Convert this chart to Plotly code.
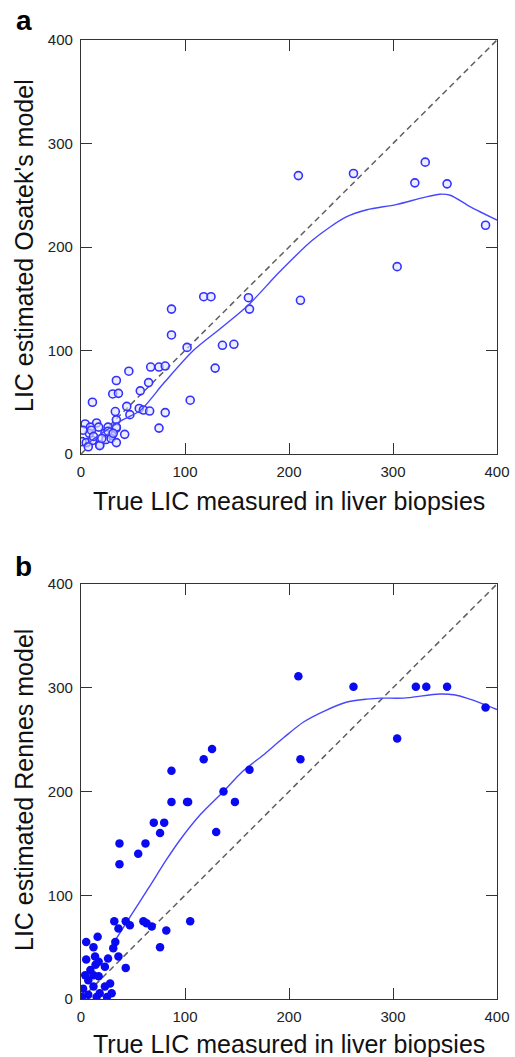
import plotly.graph_objects as go

# ---------------- data ----------------
# Panel a: Osatek's model (hollow circles)
a_x = [209, 262, 331, 321, 352, 389, 304, 211, 161, 162, 118, 125, 136, 147, 102, 129, 105, 87, 87,
       67, 75, 81, 46, 65, 34, 30.5, 36, 57, 11, 44, 56, 60, 66, 81, 33, 47, 75, 42, 34, 34,
       1, 4, 15, 9, 17, 26, 34, 8, 23, 29.5, 5, 11, 18, 24, 29, 34, 7, 18, 2, 10, 26, 12, 20, 31]
a_y = [269, 271, 282, 262, 261, 221, 181, 148.5, 151, 140, 152, 152, 105, 106, 103, 83, 52, 140, 115,
       84, 84, 85, 80, 69, 71, 58, 58.6, 61, 50, 46, 44, 42.5, 41.5, 40, 41, 38, 25, 19, 33, 25,
       12, 29, 30, 26, 26, 26, 26, 20, 20, 18, 11, 13, 9, 14, 15, 11, 7, 8, 23, 23, 22, 17, 15, 20]
a_fit_x = [3, 20, 40, 57, 80, 108, 135, 161, 191, 223, 255, 275, 303, 330, 345, 355, 374, 400]
a_fit_y = [8, 20, 33, 42, 69, 100, 122, 144, 176, 207, 229, 236, 241, 248, 251, 250, 239, 226]

# Panel b: Rennes model (filled circles)
b_x = [209, 262, 322, 332, 352, 389, 304, 211, 162, 118, 126, 137, 148, 103, 130,
       87, 87, 102, 80, 76, 70, 62, 55, 37, 37,
       32, 43, 36, 47, 60, 63, 68, 82, 105, 76, 43, 16, 5, 12, 33, 31,
       26, 13.5, 5, 23, 36, 9, 12, 17, 7, 2, 12, 23, 28, 29.5, 7, 15, 25, 1, 18, 4, 14, 17]
b_y = [311, 301, 301, 301, 301, 281, 251, 231, 221, 231, 241, 200, 190, 190, 161,
       220, 190, 190, 170, 160, 170, 150, 140, 150, 130,
       75, 75, 68, 71, 75, 73, 70, 66, 75, 50, 30, 60, 55, 50, 55, 49,
       39, 41, 38, 31, 41, 28, 23, 22, 18, 10, 12, 12, 15, 5.5, 4, 2, 2, 2, 5.5, 23, 33, 36]
b_fit_x = [30, 47, 65, 82, 95, 115, 137, 155, 175, 195, 214, 235, 255, 275, 288, 310, 345, 360, 371, 385, 400]
b_fit_y = [52, 79, 107, 134, 153, 178, 200, 219, 235, 252, 267, 278, 286, 289, 290, 290, 294, 293, 290, 285, 279]

diag = [0, 400]
ticks = [0, 100, 200, 300, 400]
tick_text = ["0", "100", "200", "300", "400"]

x_title = "True LIC measured in liver biopsies"
ya_title = "LIC estimated Osatek's model"
yb_title = "LIC estimated Rennes model"

# ---------------- figure ----------------
FONT = "Liberation Sans, Arial, sans-serif"
W, H = 515, 1057
ML, MR, MT, MB = 81, 18, 40, 58
ph = H - MT - MB
a_dom = [(H - MB - 454) / ph, 1.0]
b_dom = [0.0, (H - MB - 584) / ph]

fig = go.Figure()

line_blue = "rgb(70,70,255)"
dash_col = "rgb(95,95,95)"

# panel a
fig.add_trace(go.Scatter(x=diag, y=diag, mode="lines", xaxis="x", yaxis="y",
                         line=dict(color=dash_col, width=1.5, dash="6px,4px"), showlegend=False))
fig.add_trace(go.Scatter(x=a_x, y=a_y, mode="markers", xaxis="x", yaxis="y",
                         marker=dict(symbol="circle", size=8, color="rgba(225,225,255,0.6)",
                                     line=dict(width=1.6, color="rgb(50,50,255)")),
                         showlegend=False))
fig.add_trace(go.Scatter(x=a_fit_x, y=a_fit_y, mode="lines", xaxis="x", yaxis="y",
                         line=dict(color=line_blue, width=1.4, shape="spline", smoothing=0.8),
                         showlegend=False))

# panel b
fig.add_trace(go.Scatter(x=diag, y=diag, mode="lines", xaxis="x2", yaxis="y2",
                         line=dict(color=dash_col, width=1.5, dash="6px,4px"), showlegend=False))
fig.add_trace(go.Scatter(x=b_fit_x, y=b_fit_y, mode="lines", xaxis="x2", yaxis="y2",
                         line=dict(color=line_blue, width=1.4, shape="spline", smoothing=0.8),
                         showlegend=False))
fig.add_trace(go.Scatter(x=b_x, y=b_y, mode="markers", xaxis="x2", yaxis="y2",
                         marker=dict(symbol="circle", size=8.5, color="rgb(10,10,240)"),
                         showlegend=False))

axis_common = dict(range=[0, 400], tickvals=ticks, ticktext=tick_text, ticks="inside",
                   ticklen=11, tickwidth=1.3, tickcolor="#333", showline=True,
                   linecolor="#333", linewidth=1.3, mirror="allticks", showgrid=False,
                   zeroline=False, automargin=False,
                   tickfont=dict(family=FONT, size=15, color="#222"))

fig.update_layout(
    template="none",
    width=W, height=H, autosize=False,
    margin=dict(l=ML, r=MR, t=MT, b=MB, pad=0),
    paper_bgcolor="white", plot_bgcolor="white",
    xaxis=dict(domain=[0, 1], anchor="y", ticklabelstandoff=4, **axis_common),
    yaxis=dict(domain=a_dom, anchor="x", ticklabelstandoff=4, **axis_common),
    xaxis2=dict(domain=[0, 1], anchor="y2", ticklabelstandoff=4, **axis_common),
    yaxis2=dict(domain=b_dom, anchor="x2", ticklabelstandoff=4, **axis_common),
)

def yfrac(py):
    return (H - MB - py) / ph

def xfrac(px):
    return (px - ML) / (W - ML - MR)

ann = []
ann.append(dict(text=x_title, x=xfrac(288.5), y=yfrac(501), xref="paper", yref="paper",
                showarrow=False, font=dict(family=FONT, size=25, color="#111"),
                xanchor="center", yanchor="middle"))
ann.append(dict(text=x_title, x=xfrac(288.5), y=yfrac(1044), xref="paper", yref="paper",
                showarrow=False, font=dict(family=FONT, size=25, color="#111"),
                xanchor="center", yanchor="middle"))
ann.append(dict(text=ya_title, x=xfrac(24), y=yfrac(246), xref="paper", yref="paper",
                showarrow=False, textangle=-90, font=dict(family=FONT, size=25, color="#111"),
                xanchor="center", yanchor="middle"))
ann.append(dict(text=yb_title, x=xfrac(24), y=yfrac(790), xref="paper", yref="paper",
                showarrow=False, textangle=-90, font=dict(family=FONT, size=25, color="#111"),
                xanchor="center", yanchor="middle"))
ann.append(dict(text="<b>a</b>", x=xfrac(24), y=yfrac(20), xref="paper", yref="paper",
                showarrow=False, font=dict(family=FONT, size=28, color="#000"),
                xanchor="center", yanchor="middle"))
ann.append(dict(text="<b>b</b>", x=xfrac(24), y=yfrac(566), xref="paper", yref="paper",
                showarrow=False, font=dict(family=FONT, size=28, color="#000"),
                xanchor="center", yanchor="middle"))
fig.update_layout(annotations=ann)

fig.write_html("out.html", config={"displayModeBar": False},
               post_script="document.body.style.margin='0';document.body.style.overflow='hidden';")
